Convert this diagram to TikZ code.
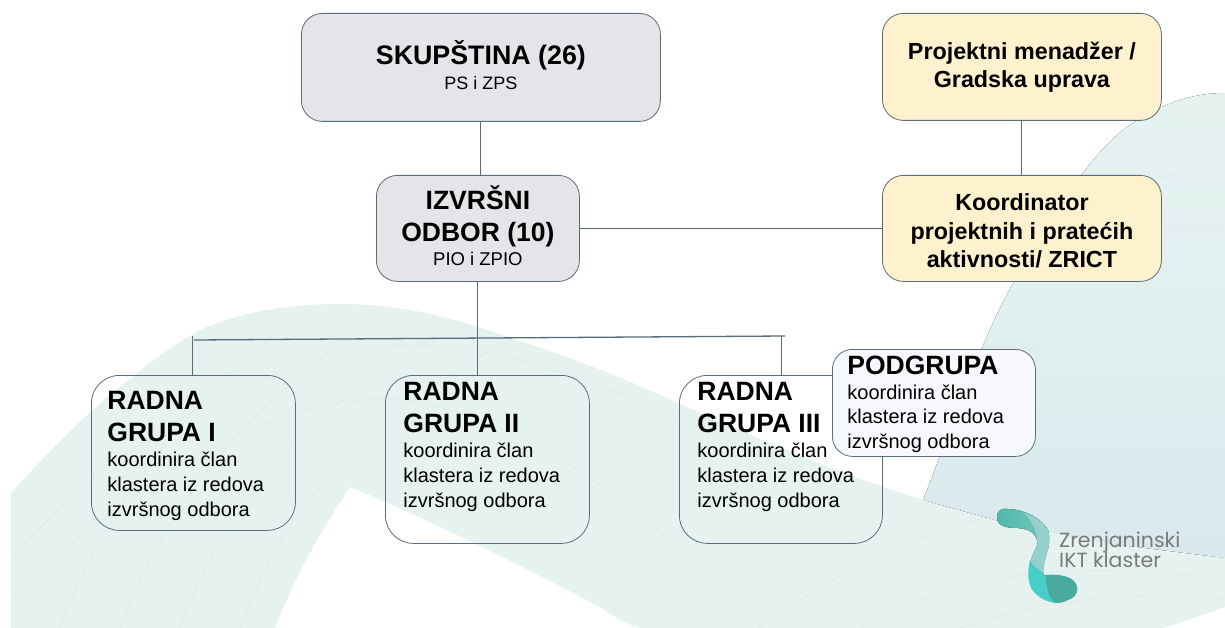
\documentclass[tikz,border=0pt]{standalone}
\usepackage{fontspec}
\setmainfont{Liberation Sans}
\newfontfamily\logofont{Poppins}
\definecolor{wavegreen}{RGB}{229,242,240}
\definecolor{waveblue}{RGB}{216,232,236}
\definecolor{waveline}{RGB}{211,230,228}
\definecolor{greyfill}{RGB}{229,228,232}
\definecolor{creamfill}{RGB}{254,241,205}
\definecolor{subfill}{RGB}{247,248,251}
\definecolor{edge}{RGB}{90,108,122}
\definecolor{logoa}{RGB}{78,186,170}
\definecolor{logob}{RGB}{118,198,188}
\definecolor{logoc}{RGB}{150,208,204}
\definecolor{logod}{RGB}{72,206,200}
\definecolor{logoe}{RGB}{74,170,158}
\newcommand{\tl}[2][26.5]{{\fontsize{#1}{32}\selectfont\bfseries #2\par}}
\newcommand{\bd}[1]{{\fontsize{20}{25}\selectfont #1\par}}
\newcommand{\lifted}[3]{\raisebox{#1}[0pt][0pt]{\parbox[c]{#2}{\parindent=0pt\raggedright #3}}}
\newcommand{\liftedc}[3]{\raisebox{#1}[0pt][0pt]{\parbox[c]{#2}{\parindent=0pt\centering #3}}}
\tikzset{
  x=1pt,y=-1pt,
  boxbase/.style={draw=edge,line width=0.8pt,rounded corners=21pt,inner sep=0pt,anchor=north west},
  greybox/.style={boxbase,fill=greyfill},
  creambox/.style={boxbase,fill=creamfill},
  groupbox/.style={boxbase,fill=none,rounded corners=28pt},
  subbox/.style={boxbase,fill=subfill,rounded corners=20pt},
  conn/.style={draw=edge,line width=0.9pt},
  bus/.style={draw=edge,line width=1.3pt},
  faint/.style={waveline,line width=0.45pt,opacity=.7},
}
\begin{document}
\begin{tikzpicture}
\useasboundingbox (0,0) rectangle (1225,628);
\fill[white] (0,0) rectangle (1225,628);
% background: right shape
\fill[top color=wavegreen,bottom color=waveblue,middle color=wavegreen!70!waveblue]
  (1225,93) .. controls (1190,93) and (1160,105) .. (1130,125)
  .. controls (1090,152) and (1040,230) .. (1000,308)
  .. controls (970,370) and (945,445) .. (923,500)
  -- (1056,537) -- (1225,558) -- cycle;
\begin{scope}
\clip (1225,93) .. controls (1190,93) and (1160,105) .. (1130,125)
  .. controls (1090,152) and (1040,230) .. (1000,308)
  .. controls (970,370) and (945,445) .. (923,500)
  -- (1056,537) -- (1225,558) -- cycle;
\draw[faint] (1050,230) .. controls (1120,180) and (1180,170) .. (1225,170);
\draw[faint] (1010,300) .. controls (1100,240) and (1180,225) .. (1225,225);
\draw[faint] (990,370) .. controls (1080,320) and (1170,300) .. (1225,300);
\draw[faint] (970,440) .. controls (1060,390) and (1170,370) .. (1225,375);
\end{scope}
% background: wave
\def\wavepath{(11,493) .. controls (50,450) and (90,410) .. (125,383)
  .. controls (150,362) and (175,344) .. (200,330)
  .. controls (240,312) and (290,304) .. (340,304)
  .. controls (390,304) and (440,314) .. (478,327)
  .. controls (550,350) and (610,372) .. (660,395)
  .. controls (760,440) and (850,478) .. (923,500)
  .. controls (1000,525) and (1110,548) .. (1225,558)
  -- (1225,607) -- (1164,628) -- (640,628)
  .. controls (620,622) and (610,613) .. (600,607)
  .. controls (520,565) and (420,515) .. (350,487)
  .. controls (325,525) and (300,565) .. (275,628)
  -- (11,628) -- cycle}
\fill[wavegreen] \wavepath;
\begin{scope}
\clip \wavepath;
\foreach \a/\b in {60/60,120/80,180/105,240/130}{
  \draw[faint] (\a,628) .. controls (\a+40,520) and (\a+110,420) .. (\a+\b+160,330);
}
\draw[faint] (11,560) .. controls (120,430) and (300,340) .. (420,345) .. controls (560,350) and (700,430) .. (900,520);
\draw[faint] (11,600) .. controls (140,470) and (290,390) .. (400,400) .. controls (520,415) and (640,500) .. (760,628);
\draw[faint] (760,628) .. controls (850,560) and (950,520) .. (1060,500);
\draw[faint] (860,628) .. controls (960,570) and (1080,560) .. (1225,580);
\draw[faint] (960,628) .. controls (1040,600) and (1130,590) .. (1225,600);
\end{scope}
% logo
\fill[left color=logoa,right color=logob]
  (997,517) .. controls (997,510) and (1002,508) .. (1008,509)
  .. controls (1020,509) and (1040,516) .. (1048,530)
  .. controls (1052,545) and (1045,555) .. (1045,560)
  .. controls (1043,566) and (1043,571) .. (1043,576)
  -- (1030,566)
  .. controls (1030,555) and (1040,545) .. (1037,540)
  .. controls (1034,530) and (1025,529) .. (1018,528)
  .. controls (1008,528) and (997,527) .. (997,517) -- cycle;
\fill[logoc]
  (1022,512) .. controls (1036,516) and (1044,524) .. (1048,530)
  .. controls (1052,545) and (1045,555) .. (1045,562)
  .. controls (1043,568) and (1043,572) .. (1043,576)
  -- (1030,566)
  .. controls (1030,555) and (1040,545) .. (1037,540)
  .. controls (1036,527) and (1030,518) .. (1022,512) -- cycle;
\fill[logod]
  (1030,560) .. controls (1032,566) and (1040,570) .. (1045,575)
  .. controls (1046,585) and (1048,598) .. (1056,603)
  .. controls (1045,602) and (1036,596) .. (1031,588)
  .. controls (1027,578) and (1028,570) .. (1030,560) -- cycle;
\fill[logoe]
  (1045,575) .. controls (1055,574) and (1068,575) .. (1074,581)
  .. controls (1081,589) and (1076,598) .. (1068,600)
  .. controls (1063,603) and (1058,603) .. (1055,603)
  .. controls (1048,598) and (1046,585) .. (1045,575) -- cycle;
\node[anchor=base west,inner sep=0pt,font=\logofont\fontsize{20.5}{20}\selectfont,text=black!52] (lg1) at (1059,547) {Zrenjaninski};
\node[anchor=base west,inner sep=0pt,font=\logofont\fontsize{20.5}{20}\selectfont,text=black!52] (lg2) at (1059,567) {IKT klaster};
% boxes
\node[greybox,minimum width=359pt,minimum height=108pt] (sk) at (301,13)
  {\liftedc{0pt}{340pt}{\tl[26.8]{SKUPŠTINA (26)}{\fontsize{18}{25}\selectfont PS i ZPS\par}}};
\node[greybox,minimum width=203pt,minimum height=106pt] (iz) at (376,175)
  {\liftedc{0pt}{195pt}{\tl[26.5]{IZVRŠNI}\tl[26.5]{ODBOR (10)}{\fontsize{18.5}{24}\selectfont PIO i ZPIO\par}}};
\node[creambox,minimum width=279pt,minimum height=107pt] (pm) at (882,13)
  {\liftedc{-3pt}{272pt}{\fontsize{23.3}{28}\selectfont\bfseries Projektni menadžer /\par Gradska uprava\par}};
\node[creambox,minimum width=279pt,minimum height=106pt] (ko) at (882,175)
  {\liftedc{-5pt}{272pt}{\fontsize{23.3}{28.5}\selectfont\bfseries Koordinator\par projektnih i pratećih\par aktivnosti/ ZRICT\par}};
\node[groupbox,minimum width=204pt,minimum height=155pt] (rg1) at (91,375)
  {\lifted{-6pt}{172pt}{\tl{RADNA}\tl{GRUPA I}\bd{koordinira član}\bd{klastera iz redova}\bd{izvršnog odbora}}};
\node[groupbox,minimum width=204pt,minimum height=168pt] (rg2) at (385,375)
  {\lifted{10pt}{168pt}{\tl{RADNA}\tl{GRUPA II}\bd{koordinira član}\bd{klastera iz redova}\bd{izvršnog odbora}}};
\node[groupbox,minimum width=203pt,minimum height=168pt] (rg3) at (679,375)
  {\lifted{10pt}{167pt}{\tl{RADNA}\tl{GRUPA III}\bd{koordinira član}\bd{klastera iz redova}\bd{izvršnog odbora}}};
\node[subbox,minimum width=203pt,minimum height=107pt] (pg) at (832,349)
  {\lifted{-4pt}{173pt}{{\fontsize{26.5}{28}\selectfont\bfseries PODGRUPA\par}{\fontsize{20}{24.7}\selectfont koordinira član\par klastera iz redova\par izvršnog odbora\par}}};
% connectors
\coordinate (busT) at (192,336);
\coordinate (busS) at (194,340);
\coordinate (busR) at (785,336);
\coordinate (dropR) at (781,336.2);
\draw[conn] (sk.south) -- (sk.south |- iz.north);
\draw[conn] (iz.south) -- (iz.south |- rg2.north);
\draw[conn] (iz.east) -- (ko.west);
\draw[conn] (pm.south) -- (ko.north);
\draw[bus] (busS) -- (busR);
\draw[conn] (busT) -- (busT |- rg1.north);
\draw[conn] (dropR) -- (dropR |- rg3.north);
\end{tikzpicture}
\end{document}
